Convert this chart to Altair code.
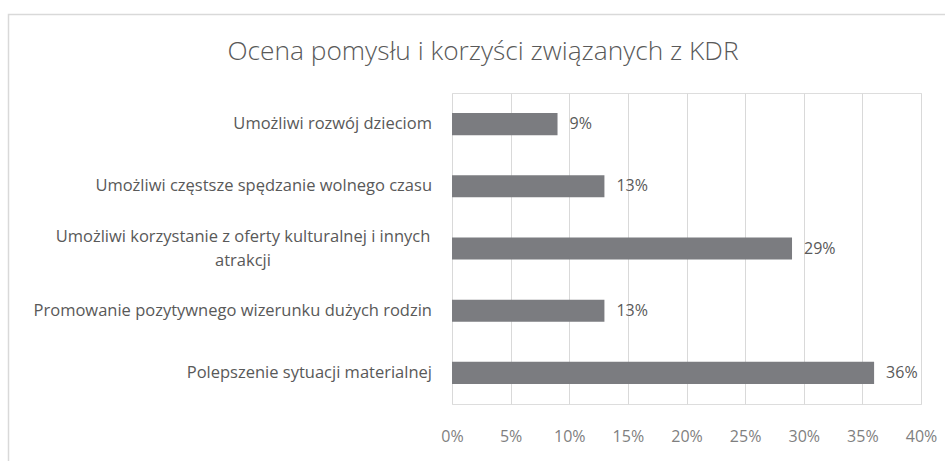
import altair as alt
import pandas as pd

categories = [
    "Umożliwi rozwój dzieciom",
    "Umożliwi częstsze spędzanie wolnego czasu",
    "Umożliwi korzystanie z oferty kulturalnej i innych\natrakcji",
    "Promowanie pozytywnego wizerunku dużych rodzin",
    "Polepszenie sytuacji materialnej",
]
values = [9, 13, 29, 13, 36]
labels = ["9%", "13%", "29%", "13%", "36%"]
multiline = [False, False, True, False, False]
title_text = ["Ocena pomysłu i korzyści związanych z KDR"]

df = pd.DataFrame({"cat": categories, "val": values, "lab": labels, "ml": multiline})

FONT = "Open Sans"
TXT = "#595959"
LBL = 16.5

y_enc = alt.Y(
    "cat:N",
    sort=categories,
    title=None,
    scale=alt.Scale(paddingInner=0.645, paddingOuter=0.3225),
    axis=None,
)
x_enc = alt.X(
    "val:Q",
    title=None,
    scale=alt.Scale(domain=[0, 40]),
    axis=alt.Axis(
        values=[0, 5, 10, 15, 20, 25, 30, 35, 40],
        labelExpr="datum.value + '%'",
        ticks=False, domain=False, grid=True, gridColor="#d9d9d9",
        labelFlush=False, labelOverlap=False,
        labelPadding=24, labelFontSize=16, labelColor="#7f7f7f", labelFont=FONT,
    ),
)

base = alt.Chart(df)
bars = base.mark_bar(color="#7b7c80").encode(x=x_enc, y=y_enc)
text = base.mark_text(
    align="left", dx=12, fontSize=16, color=TXT, font=FONT
).encode(x="val:Q", y=alt.Y("cat:N", sort=categories), text="lab:N")

ylab_single = base.transform_filter("!datum.ml").mark_text(
    align="right", baseline="middle", fontSize=LBL, color=TXT, font=FONT
).encode(x=alt.value(-20), y=alt.Y("cat:N", sort=categories), text="cat:N")

ylab_multi = base.transform_filter("datum.ml").mark_text(
    align="center", baseline="middle", fontSize=LBL, color=TXT, font=FONT,
    lineBreak="\n", lineHeight=24, dy=-12,
).encode(x=alt.value(-209), y=alt.Y("cat:N", sort=categories), text="cat:N")

title = alt.Chart(pd.DataFrame({"t": title_text})).mark_text(
    align="center", baseline="alphabetic", fontSize=26.3, color=TXT, font=FONT,
    fontWeight=300,
).encode(x=alt.value(31), y=alt.value(-33), text="t:N")

border = alt.Chart(pd.DataFrame({"a": [0]})).mark_rect(
    fill=None, stroke="#d9d9d9", strokeWidth=1.5
).encode(
    x=alt.value(-443.5), x2=alt.value(520), y=alt.value(-78.5), y2=alt.value(400)
)

chart = alt.layer(border, title, bars, text, ylab_single, ylab_multi).properties(
    width=469,
    height=311,
    padding={"left": 452, "top": 93, "right": 24, "bottom": 57},
    autosize=alt.AutoSizeParams(type="none"),
).configure_view(stroke=None).configure(background="white")

chart.save("out.html", embed_options={"renderer": "svg", "actions": False})
